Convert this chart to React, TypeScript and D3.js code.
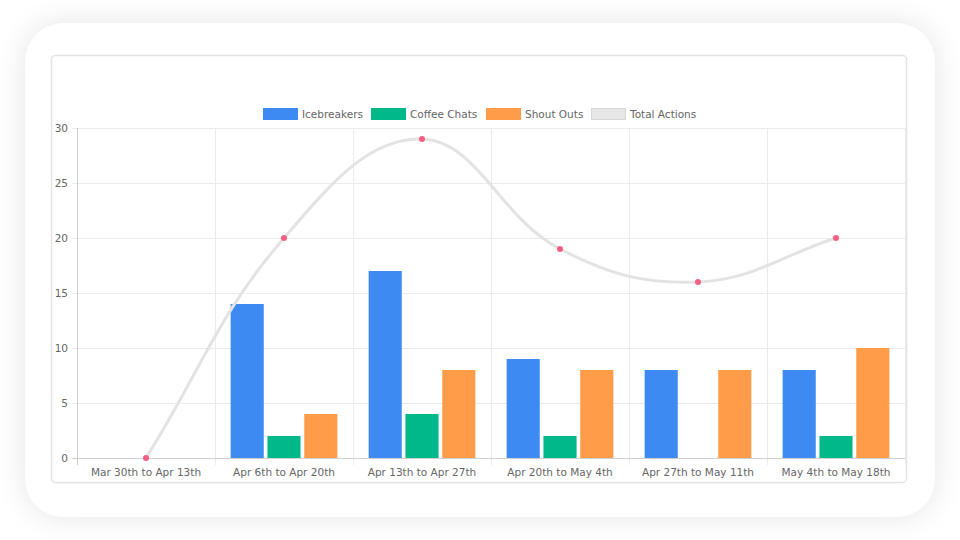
import React from "react";
import * as d3 from "d3";

const categories = ["Mar 30th to Apr 13th", "Apr 6th to Apr 20th", "Apr 13th to Apr 27th", "Apr 20th to May 4th", "Apr 27th to May 11th", "May 4th to May 18th"];
const icebreakers = [0, 14, 17, 9, 8, 8];
const coffeeChats = [0, 2, 4, 2, 0, 2];
const shoutOuts = [0, 4, 8, 8, 8, 10];
const totalActions = [0, 20, 29, 19, 16, 20];
const yTicks = [0, 5, 10, 15, 20, 25, 30];

const barSeries = [
  { name: "Icebreakers", values: icebreakers, color: "#3d8bf2" },
  { name: "Coffee Chats", values: coffeeChats, color: "#00b88a" },
  { name: "Shout Outs", values: shoutOuts, color: "#ff9c4a" },
];

const W = 960, H = 540;
const L = 77, R = 905, T = 128, B = 458;
const FONT = "'DejaVu Sans', sans-serif";
const FS = 10.5;

function splinePath(pts: [number, number][], t = 0.4): string {
  const cps: { p: [number, number]; c1: [number, number]; c2: [number, number] }[] = [];
  for (let i = 0; i < pts.length; i++) {
    const prev = pts[i - 1] || pts[i];
    const cur = pts[i];
    const next = pts[i + 1] || pts[i];
    const d01 = Math.hypot(cur[0] - prev[0], cur[1] - prev[1]);
    const d12 = Math.hypot(next[0] - cur[0], next[1] - cur[1]);
    let s01 = d01 / (d01 + d12), s12 = d12 / (d01 + d12);
    if (isNaN(s01)) s01 = 0;
    if (isNaN(s12)) s12 = 0;
    const fa = t * s01, fb = t * s12;
    const c1: [number, number] = [cur[0] - fa * (next[0] - prev[0]), cur[1] - fa * (next[1] - prev[1])];
    const c2: [number, number] = [cur[0] + fb * (next[0] - prev[0]), cur[1] + fb * (next[1] - prev[1])];
    const clamp = (c: [number, number]): [number, number] => [Math.max(L, Math.min(R, c[0])), Math.max(T, Math.min(B, c[1]))];
    cps.push({ p: cur, c1: clamp(c1), c2: clamp(c2) });
  }
  let d = `M${pts[0][0]},${pts[0][1]}`;
  for (let i = 1; i < cps.length; i++) {
    const a = cps[i - 1], b = cps[i];
    d += `C${a.c2[0]},${a.c2[1]} ${b.c1[0]},${b.c1[1]} ${b.p[0]},${b.p[1]}`;
  }
  return d;
}

export default function App() {
  const x = d3.scaleBand<string>().domain(categories).range([L, R]).padding(0);
  const bw = x.bandwidth();
  const slot = bw * 0.8 / 3;
  const barW = slot * 0.9;
  const y = d3.scaleLinear().domain([0, 30]).range([B, T]);
  const linePts: [number, number][] = totalActions.map((v, i) => [x(categories[i])! + bw / 2, y(v)]);

  const legendItems = [
    { name: "Icebreakers", color: "#3d8bf2", bx: 263, stroke: "#3d8bf2" },
    { name: "Coffee Chats", color: "#00b88a", bx: 371, stroke: "#00b88a" },
    { name: "Shout Outs", color: "#ff9c4a", bx: 486, stroke: "#ff9c4a" },
    { name: "Total Actions", color: "#e6e6e6", bx: 591, stroke: "#d6d6d6" },
  ];

  return (
    <svg width={W} height={H} style={{ position: "absolute", left: 0, top: 0, display: "block" }} fontFamily={FONT}>
      <defs>
        <filter id="sh" x="-20%" y="-30%" width="140%" height="160%">
          <feGaussianBlur stdDeviation="16" />
        </filter>
      </defs>
      <rect x={0} y={0} width={W} height={H} fill="#ffffff" />
      <rect x={25} y={23} width={910} height={494} rx={38} fill="#000" opacity={0.1} filter="url(#sh)" />
      <rect x={25} y={23} width={910} height={494} rx={38} fill="#ffffff" />
      <rect x={51.5} y={55.5} width={855} height={427} rx={4} fill="#fff" stroke="#e3e3e3" strokeWidth={1.5} />

      {/* grid */}
      {yTicks.map(t => (
        <line key={"gy" + t} x1={L - 5} x2={R} y1={y(t) + 0.5} y2={y(t) + 0.5} stroke={t === 0 ? "#cfcfcf" : "#ebebeb"} strokeWidth={1} />
      ))}
      {categories.map((c, i) => (
        <line key={"gx" + i} x1={x(c)! + 0.5} x2={x(c)! + 0.5} y1={T} y2={B + 7} stroke={i === 0 ? "#cfcfcf" : "#ebebeb"} strokeWidth={1} />
      ))}
      <line x1={R + 0.5} x2={R + 0.5} y1={T} y2={B + 7} stroke="#ebebeb" />
      <line x1={L + 0.5} x2={L + 0.5} y1={T} y2={B + 7} stroke="#cfcfcf" />
      <line x1={L} x2={R} y1={B + 0.5} y2={B + 0.5} stroke="#cfcfcf" />

      {/* y labels */}
      {yTicks.map(t => (
        <text key={"yl" + t} x={68} y={y(t)} dy="0.35em" textAnchor="end" fontSize={FS} fill="#666">{t}</text>
      ))}
      {/* x labels */}
      {categories.map(c => (
        <text key={"xl" + c} x={x(c)! + bw / 2} y={476} textAnchor="middle" fontSize={FS} fill="#666">{c}</text>
      ))}

      {/* bars */}
      {categories.map((c, i) => (
        <g key={"b" + i}>
          {barSeries.map((s, j) => {
            const v = s.values[i];
            if (!v) return null;
            const bx = x(c)! + bw * 0.1 + j * slot + (slot - barW) / 2;
            return <rect key={s.name} x={bx} y={y(v)} width={barW} height={B - y(v)} fill={s.color} />;
          })}
        </g>
      ))}

      {/* line */}
      <path d={splinePath(linePts)} fill="none" stroke="#e3e3e3" strokeWidth={3} />
      {linePts.map((p, i) => (
        <circle key={"pt" + i} cx={p[0]} cy={p[1]} r={3} fill="#f25f82" />
      ))}

      {/* legend */}
      {legendItems.map(it => (
        <g key={it.name}>
          <rect x={it.bx + 0.5} y={108.5} width={34} height={11} fill={it.color} stroke={it.stroke} strokeWidth={1} />
          <text x={it.bx + 39} y={114} dy="0.35em" fontSize={FS} fill="#666">{it.name}</text>
        </g>
      ))}
    </svg>
  );
}
